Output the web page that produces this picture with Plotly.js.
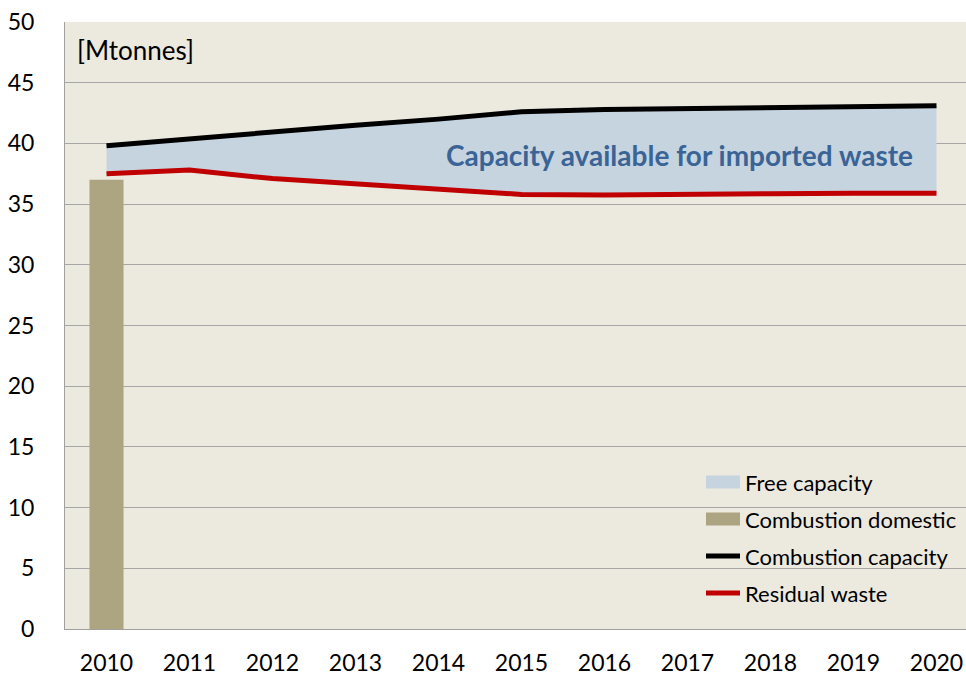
<!DOCTYPE html>
<html><head><meta charset="utf-8">
<script src="https://cdn.plot.ly/plotly-3.0.1.min.js"></script>
<style>html,body{margin:0;padding:0;overflow:hidden;background:#fff;}#chart{width:980px;height:676px;}</style>
</head><body><div id="chart"></div>
<script>
const years = [2010, 2011, 2012, 2013, 2014, 2015, 2016, 2017, 2018, 2019, 2020];
const combustionCapacity = [39.8, 40.4, 41.0, 41.5, 42.0, 42.6, 42.8, 42.9, 42.9, 43.0, 43.1];
const residualWaste = [37.5, 37.8, 37.1, 36.7, 36.2, 35.8, 35.75, 35.85, 35.85, 35.9, 35.9];
const domesticYears = [2010];
const combustionDomestic = [37.0];
const yTicks = [0, 5, 10, 15, 20, 25, 30, 35, 40, 45, 50];
const legendNames = ['Free capacity', 'Combustion domestic', 'Combustion capacity', 'Residual waste'];

const FONT = 'Lato, "Open Sans", sans-serif';
const COLORS = {free: '#c6d4e0', dom: '#ada581', cap: '#000000', res: '#c00000'};
const traces = [
  {x: years, y: residualWaste, type: 'scatter', mode: 'lines', line: {width: 0, color: 'rgba(0,0,0,0)'},
   showlegend: false, hoverinfo: 'skip'},
  {x: years, y: combustionCapacity, type: 'scatter', mode: 'lines', fill: 'tonexty',
   fillcolor: COLORS.free, line: {width: 0, color: COLORS.free}, name: legendNames[0], showlegend: false},
  {x: domesticYears, y: combustionDomestic, type: 'bar', width: 0.41, marker: {color: COLORS.dom},
   name: legendNames[1], showlegend: false},
  {x: years, y: combustionCapacity, type: 'scatter', mode: 'lines', line: {width: 5, color: COLORS.cap},
   name: legendNames[2], showlegend: false},
  {x: years, y: residualWaste, type: 'scatter', mode: 'lines', line: {width: 5, color: COLORS.res},
   name: legendNames[3], showlegend: false}
];

// custom legend (positions in pixels converted to paper coords)
const PL = 65, PT = 22, PW = 913, PH = 607;
const px = v => (v - PL) / PW;
const py = v => (PT + PH - v) / PH;
const rowY = [482, 519, 556, 593];
const shapes = [
  {type: 'rect', xref: 'paper', yref: 'paper', x0: px(706), x1: px(740), y0: py(rowY[0] + 6.5), y1: py(rowY[0] - 6.5),
   fillcolor: COLORS.free, line: {width: 0}},
  {type: 'rect', xref: 'paper', yref: 'paper', x0: px(706), x1: px(740), y0: py(rowY[1] + 6.5), y1: py(rowY[1] - 6.5),
   fillcolor: COLORS.dom, line: {width: 0}},
  {type: 'line', xref: 'paper', yref: 'paper', x0: px(706), x1: px(740), y0: py(rowY[2]), y1: py(rowY[2]),
   line: {width: 5, color: COLORS.cap}},
  {type: 'line', xref: 'paper', yref: 'paper', x0: px(706), x1: px(740), y0: py(rowY[3]), y1: py(rowY[3]),
   line: {width: 5, color: COLORS.res}}
];
const legendAnn = legendNames.map((n, i) => ({
  text: n, xref: 'paper', yref: 'paper', x: px(743), y: py(rowY[i]), xanchor: 'left', yanchor: 'middle',
  showarrow: false, font: {family: FONT, size: 22, color: '#000'}
}));

const layout = {
  width: 980, height: 676,
  margin: {l: PL, r: 2, t: PT, b: 47},
  paper_bgcolor: '#ffffff', plot_bgcolor: '#ece9df',
  font: {family: FONT, size: 23, color: '#000000'},
  showlegend: false,
  xaxis: {type: 'linear', range: [2009.5, 2020.5], tickvals: years, ticktext: years.map(String),
    showgrid: false, zeroline: false, showline: true, linecolor: '#a0a0a0', linewidth: 1,
    ticks: 'outside', ticklen: 13, tickcolor: 'rgba(0,0,0,0)', tickfont: {size: 23}},
  yaxis: {range: [0, 50], tickvals: yTicks, showgrid: true, gridcolor: '#a6a6a6', gridwidth: 1,
    zeroline: false, showline: true, linecolor: '#a0a0a0', linewidth: 1,
    ticks: 'outside', ticklen: 25, tickcolor: 'rgba(0,0,0,0)', tickfont: {size: 23}},
  shapes: shapes,
  annotations: [
    {text: '[Mtonnes]', xref: 'paper', yref: 'y', x: px(75), y: 47.7, xanchor: 'left', yanchor: 'middle',
     showarrow: false, font: {family: FONT, size: 26, color: '#000'}},
    {text: '<b>Capacity available for imported waste</b>', xref: 'x', yref: 'y', x: 2016.9, y: 39.05,
     xanchor: 'center', yanchor: 'middle', showarrow: false, font: {family: FONT, size: 28, color: '#3a6496'}}
  ].concat(legendAnn)
};
Plotly.newPlot('chart', traces, layout, {displayModeBar: false, staticPlot: true});
</script></body></html>
